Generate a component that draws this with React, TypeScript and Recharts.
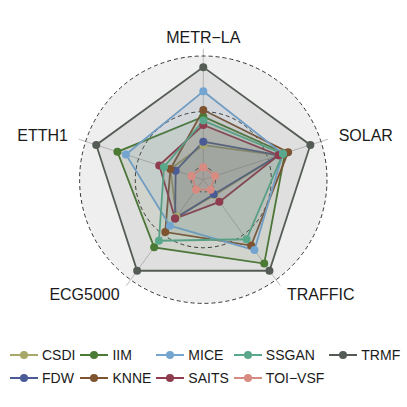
import { RadarChart, Radar, PolarGrid, PolarAngleAxis, PolarRadiusAxis, Legend } from 'recharts'

const axes = ['METR−LA', 'SOLAR', 'TRAFFIC', 'ECG5000', 'ETTH1']

const csdi = [0.2, 0.6, 0.06, 0.3, 0.2]
const fdw = [0.23, 0.6, 0.05, 0.32, 0.15]
const iim = [0.455, 0.66, 0.82, 0.64, 0.7]
const knne = [0.515, 0.69, 0.62, 0.47, 0.2]
const mice = [0.683, 0.64, 0.67, 0.4, 0.62]
const saits = [0.38, 0.6, 0.135, 0.32, 0.305]
const ssgan = [0.42, 0.64, 0.55, 0.567, 0.26]
const toivsf = [0, 0, 0, 0, 0]
const trmf = [0.9, 0.9, 0.9, 0.9, 0.9]

const gridValues = [0, 0.5, 1]

const series = [
  { name: 'CSDI', values: csdi, color: '#a9a86b' },
  { name: 'FDW', values: fdw, color: '#4a5b96' },
  { name: 'IIM', values: iim, color: '#4a7a34' },
  { name: 'KNNE', values: knne, color: '#7d5330' },
  { name: 'MICE', values: mice, color: '#74a5d0' },
  { name: 'SAITS', values: saits, color: '#8e3c4e' },
  { name: 'SSGAN', values: ssgan, color: '#5aa88c' },
  { name: 'TOI−VSF', values: toivsf, color: '#d88b80' },
  { name: 'TRMF', values: trmf, color: '#555c55' }
]

const data = axes.map((axis, i) => {
  const row: Record<string, string | number> = { axis }
  series.forEach((s) => {
    row[s.name] = s.values[i]
  })
  return row
})

const FONT = '"Liberation Sans", Arial, sans-serif'
const CX = 203.3
const CY = 179.7
const OUTER = 131
const DMIN = -1 / 9
const DMAX = 1.0656
const rOf = (v: number) => ((v - DMIN) / (DMAX - DMIN)) * OUTER
const BG_R = rOf(1)

function AxisTick(props: any) {
  const { x, y, textAnchor, payload } = props
  return (
    <text
      x={x}
      y={y}
      textAnchor={textAnchor}
      dominantBaseline="central"
      fontSize={16}
      fontFamily={FONT}
      fill="#1a1a1a"
    >
      {payload.value}
    </text>
  )
}

function LegendContent({ payload }: any) {
  return (
    <div
      style={{
        display: 'grid',
        gridTemplateRows: 'repeat(2, 23px)',
        gridAutoFlow: 'column',
        columnGap: 5,
        alignItems: 'center',
        fontFamily: FONT,
        fontSize: 14,
        color: '#1a1a1a'
      }}
    >
      {(payload || []).map((p: any) => (
        <div key={p.value} style={{ display: 'flex', alignItems: 'center' }}>
          <svg width={28} height={10}>
            <line x1={0} y1={5} x2={28} y2={5} stroke={p.color} strokeWidth={2} />
            <circle cx={14} cy={5} r={4} fill={p.color} />
          </svg>
          <span style={{ marginLeft: 4 }}>{p.value}</span>
        </div>
      ))}
    </div>
  )
}

export default function App() {
  return (
    <div style={{ position: 'fixed', left: 0, top: 0, width: 407, height: 407, background: '#fff' }}>
      <div
        style={{
          position: 'absolute',
          left: CX - BG_R,
          top: CY - BG_R,
          width: BG_R * 2,
          height: BG_R * 2,
          borderRadius: '50%',
          background: '#efefef'
        }}
      />
      <div style={{ position: 'absolute', left: 0, top: 0 }}>
        <RadarChart
          width={407}
          height={407}
          data={data}
          cx={CX}
          cy={CY}
          outerRadius={OUTER}
          margin={{ top: 0, right: 0, bottom: 0, left: 0 }}
        >
          <PolarGrid gridType="circle" polarRadius={[0]} stroke="#bcbcbc" strokeWidth={1} />
          <PolarGrid
            gridType="circle"
            radialLines={false}
            polarRadius={gridValues.map(rOf)}
            stroke="#333333"
            strokeWidth={1}
            strokeDasharray="4 3"
          />
          <PolarRadiusAxis
            type="number"
            domain={[DMIN, DMAX]}
            allowDataOverflow
            tick={false}
            axisLine={false}
          />
          <PolarAngleAxis
            dataKey="axis"
            tick={<AxisTick />}
            tickLine={false}
            axisLine={false}
            tickSize={11.3}
          />
          {series.map((s) => (
            <Radar
              key={s.name}
              name={s.name}
              dataKey={s.name}
              stroke={s.color}
              strokeWidth={1.8}
              fill={s.color}
              fillOpacity={0.1}
              dot={{ r: 4, fill: s.color, fillOpacity: 1, stroke: 'none' }}
              isAnimationActive={false}
            />
          ))}
          <Legend
            content={<LegendContent />}
            wrapperStyle={{ position: 'absolute', left: 10, top: 343, width: 'auto' }}
          />
        </RadarChart>
      </div>
    </div>
  )
}
